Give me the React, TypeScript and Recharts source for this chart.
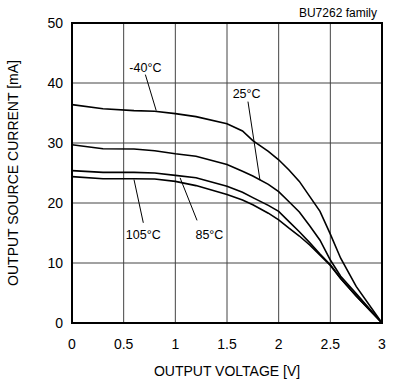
import {
  LineChart,
  Line,
  XAxis,
  YAxis,
  CartesianGrid,
  ReferenceArea,
  ReferenceLine,
  ReferenceDot,
} from 'recharts'

// output voltage [V]
const voltage = [0, 0.3, 0.6, 0.8, 1.0, 1.2, 1.5, 1.65, 1.75, 1.9, 2.0, 2.1, 2.2, 2.3, 2.4, 2.5, 2.6, 2.75, 3.0]

// output source current [mA] per temperature
const currentM40 = [36.4, 35.7, 35.4, 35.3, 34.9, 34.4, 33.2, 32.0, 30.4, 28.6, 27.2, 25.5, 23.6, 21.1, 18.6, 14.8, 10.8, 6.1, 0]
const current25 = [29.7, 29.05, 29.0, 28.7, 28.2, 27.8, 26.4, 25.3, 24.5, 23.1, 21.9, 20.2, 18.5, 16.2, 13.8, 10.5, 7.8, 4.9, 0]
const current85 = [25.4, 25.1, 25.1, 25.0, 24.6, 24.2, 22.8, 21.8, 20.9, 19.6, 18.6, 16.9, 15.2, 13.4, 11.5, 9.7, 7.4, 4.5, 0]
const current105 = [24.4, 24.05, 24.05, 24.0, 23.6, 22.9, 21.4, 20.5, 19.7, 18.3, 17.2, 15.8, 14.5, 13.0, 11.3, 9.6, 7.4, 4.5, 0]

const xTicks = [0, 0.5, 1, 1.5, 2, 2.5, 3]
const yTicks = [0, 10, 20, 30, 40, 50]

// temperature callouts: text position and leader line (data units)
const callouts = [
  { text: '-40°C', tx: 0.71, ty: 42.6, x1: 0.71, y1: 41.4, x2: 0.815, y2: 35.4 },
  { text: '25°C', tx: 1.69, ty: 38.3, x1: 1.703, y1: 36.9, x2: 1.819, y2: 23.8 },
  { text: '105°C', tx: 0.69, ty: 14.7, x1: 0.6, y1: 23.9, x2: 0.69, y2: 16.7 },
  { text: '85°C', tx: 1.33, ty: 14.7, x1: 1.046, y1: 24.2, x2: 1.21, y2: 17.1 },
]

const data = voltage.map((v, i) => ({
  v,
  m40: currentM40[i],
  t25: current25[i],
  t85: current85[i],
  t105: current105[i],
}))

const font = 'Liberation Sans, Arial, sans-serif'

export default function App() {
  return (
    <div style={{ position: 'absolute', left: 0, top: 0, fontFamily: font }}>
      <LineChart
        width={398}
        height={385}
        data={data}
        margin={{ top: 23, right: 16, bottom: 0, left: 0 }}
      >
        <CartesianGrid stroke="#444" strokeWidth={1} horizontalValues={yTicks} verticalValues={xTicks} />
        <XAxis
          dataKey="v"
          type="number"
          domain={[0, 3]}
          ticks={xTicks}
          height={62}
          axisLine={false}
          tickLine={false}
          tickSize={6}
          tickMargin={10}
          tick={{ fill: '#000', fontSize: 14, fontFamily: font }}
          label={{ value: 'OUTPUT VOLTAGE [V]', position: 'insideBottom', offset: 9, fill: '#000', fontSize: 14, fontFamily: font }}
        />
        <YAxis
          type="number"
          domain={[0, 50]}
          ticks={yTicks}
          width={72}
          axisLine={false}
          tickLine={false}
          tickSize={6}
          tickMargin={3}
          tick={{ fill: '#000', fontSize: 14, fontFamily: font }}
          label={{
            value: 'OUTPUT SOURCE CURRENT [mA]',
            angle: -90,
            position: 'insideLeft',
            offset: 13,
            fill: '#000',
            fontSize: 14,
            fontFamily: font,
            style: { textAnchor: 'middle' },
          }}
        />
        <ReferenceArea x1={0} x2={3} y1={0} y2={50} fill="none" stroke="#000" strokeWidth={2} ifOverflow="visible" />
        <Line type="linear" dataKey="m40" stroke="#000" strokeWidth={1.6} dot={false} isAnimationActive={false} />
        <Line type="linear" dataKey="t25" stroke="#000" strokeWidth={1.6} dot={false} isAnimationActive={false} />
        <Line type="linear" dataKey="t85" stroke="#000" strokeWidth={1.6} dot={false} isAnimationActive={false} />
        <Line type="linear" dataKey="t105" stroke="#000" strokeWidth={1.6} dot={false} isAnimationActive={false} />
        {callouts.map((c) => (
          <ReferenceLine
            key={'l' + c.text}
            segment={[{ x: c.x1, y: c.y1 }, { x: c.x2, y: c.y2 }]}
            stroke="#000"
            strokeWidth={1}
          />
        ))}
        {callouts.map((c) => (
          <ReferenceDot
            key={'d' + c.text}
            x={c.tx}
            y={c.ty}
            r={0}
            fill="none"
            stroke="none"
            label={{ value: c.text, position: 'center', fill: '#000', fontSize: 12.5, fontFamily: font }}
          />
        ))}
        <ReferenceDot
          x={3}
          y={50}
          r={0}
          fill="none"
          stroke="none"
          ifOverflow="visible"
          label={{ value: 'BU7262 family', position: 'insideTopRight', dx: 0, dy: -20, fill: '#000', fontSize: 12, fontFamily: font }}
        />
      </LineChart>
    </div>
  )
}
